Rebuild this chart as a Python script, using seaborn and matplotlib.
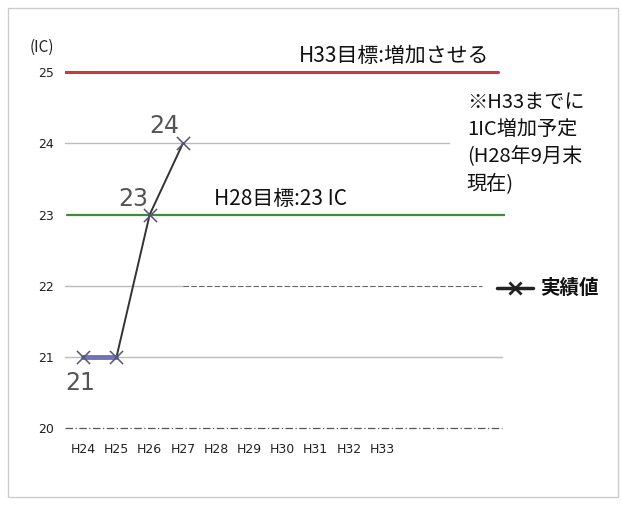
import matplotlib
matplotlib.use("Agg")
import matplotlib.pyplot as plt
import seaborn as sns
import pandas as pd
from matplotlib.lines import Line2D
from matplotlib.patches import Rectangle

sns.set_theme(style="white")
plt.rcParams['font.family'] = ['Noto Sans CJK JP', 'DejaVu Sans']

years = ["H24", "H25", "H26", "H27", "H28", "H29", "H30", "H31", "H32", "H33"]
actual_years = ["H24", "H25", "H26", "H27"]
actual_values = [21, 21, 23, 24]
target_h28 = 23
target_h33 = 25
yticks = [20, 21, 22, 23, 24, 25]

df = pd.DataFrame({"year": actual_years, "value": actual_values})
df["x"] = [years.index(y) for y in actual_years]

fig = plt.figure(figsize=(6.22, 5.05), dpi=100)
ax = fig.add_axes([65/622, 1-432/505, 440/622, (432-65)/505])

# gridlines
for v in yticks:
    if v == 20:
        ax.plot([-0.55, 12.6], [v, v], color="#555555", lw=0.9, ls=(0, (6, 2, 1, 2)), zorder=1)
    elif v == 22:
        ax.plot([-0.55, 3.0], [v, v], color="#bbbbbb", lw=1.0, zorder=1)
        ax.plot([3.0, 12.0], [v, v], color="#666666", lw=0.8, ls=(0, (5, 2)), zorder=1)
    elif v == 21:
        ax.plot([-0.55, 12.6], [v, v], color="#bbbbbb", lw=1.0, zorder=1)
    elif v == 24:
        ax.plot([-0.55, 11.0], [v, v], color="#bbbbbb", lw=1.0, zorder=1)

ax.plot([-0.6, 12.5], [target_h33, target_h33], color="#d0363a", lw=2.2, zorder=2)
ax.plot([-0.5, 12.75], [target_h28, target_h28], color="#3f8a3f", lw=1.6, zorder=2)

sns.lineplot(data=df.iloc[1:], x="x", y="value", ax=ax, color="#333333", lw=1.4,
             zorder=4)
sns.lineplot(data=df.iloc[:2], x="x", y="value", ax=ax, color="#7272b8", lw=3.5,
             zorder=5)
sns.scatterplot(data=df, x="x", y="value", ax=ax, marker="x", s=90, color="#555577",
                linewidth=1.1, zorder=6)

# value labels
ax.text(df["x"][0] - 0.1, 20.64, "21", fontsize=17, color="#555555", ha="center",
        va="center", family="DejaVu Sans")
ax.text(df["x"][2] - 0.5, 23.22, "23", fontsize=17, color="#555555", ha="center",
        va="center", family="DejaVu Sans")
ax.text(df["x"][3] - 0.55, 24.25, "24", fontsize=17, color="#555555", ha="center",
        va="center", family="DejaVu Sans")

ax.text(6.5, 25.22, "H33目標:増加させる", fontsize=15, ha="left", va="center", color="#111111")
ax.text(3.95, 23.22, "H28目標:23 IC", fontsize=15, ha="left", va="center", color="#111111")
ax.text(11.55, 24.0, "※H33までに\n1IC増加予定\n(H28年9月末\n現在)", fontsize=14.5,
        ha="left", va="center", color="#111111", linespacing=1.4)

ax.set_xlim(-0.55, 12.7)
ax.set_ylim(19.95, 25.1)
ax.set_xticks(range(len(years)))
ax.set_xticklabels(years, fontsize=9, family=["Liberation Sans Narrow", "DejaVu Sans"])
ax.set_yticks(yticks)
ax.set_yticklabels([str(v) for v in yticks], fontsize=9,
                   family=["Liberation Sans Narrow", "DejaVu Sans"])
ax.tick_params(axis="both", length=0, pad=8, colors="#222222")
ax.set_xlabel("")
ax.set_ylabel("")
for s in ax.spines.values():
    s.set_visible(False)

fig.text(30/622, 1-47/505, "(IC)", fontsize=11, ha="left", va="center", color="#222222")

# legend
leg_y = 1 - 288/505
fig.add_artist(Line2D([497/622, 533/622], [leg_y, leg_y], color="#222222", lw=2.5,
                      transform=fig.transFigure))
fig.add_artist(Line2D([515/622], [leg_y], color="#222222", marker="x", markersize=8,
                      markeredgewidth=2, transform=fig.transFigure))
fig.text(540/622, leg_y, "実績値", fontsize=14, ha="left", va="center", color="#111111",
         fontweight="bold")

fig.add_artist(Rectangle((8/622, 8/505), 610/622, 489/505, transform=fig.transFigure,
                         fill=False, edgecolor="#cccccc", lw=1.0))

fig.savefig("out.png", dpi=100)
